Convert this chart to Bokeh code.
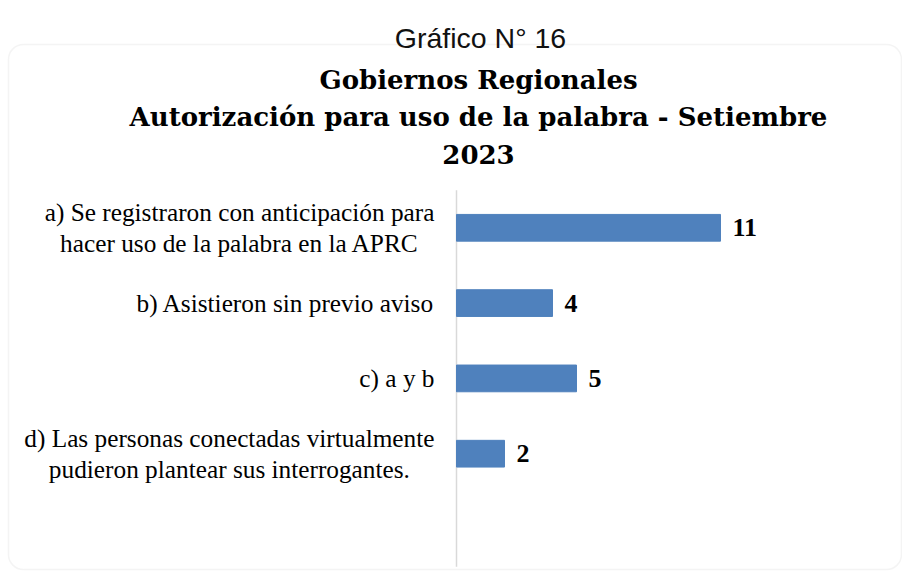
from bokeh.plotting import figure
from bokeh.models import Range1d, Label, BoxAnnotation, ColumnDataSource
from bokeh.core.properties import value
from bokeh.embed import file_html
from bokeh.resources import INLINE

# ---- data ----
super_title = "Gráfico N° 16"
title_lines = [
    "Gobiernos Regionales",
    "Autorización para uso de la palabra - Setiembre",
    "2023",
]
categories = [
    "a) Se registraron con anticipación para\nhacer uso de la palabra en la APRC",
    "b) Asistieron sin previo aviso",
    "c) a y b",
    "d) Las personas conectadas virtualmente\npudieron plantear sus interrogantes.",
]
counts = [11, 4, 5, 2]

# ---- layout (canvas pixels) ----
W, H = 902, 571
X0 = 456          # canvas x of value 0
PX_PER_UNIT = 24  # pixels per count
Y0 = 227.3        # canvas y of first category centre
BAND = 75.3       # pixels per category band

p = figure(
    width=W, height=H, output_backend="svg", toolbar_location=None,
    x_range=Range1d(-X0 / PX_PER_UNIT, (W - X0) / PX_PER_UNIT),
    y_range=Range1d((H - Y0) / BAND, -Y0 / BAND),
    x_axis_location=None, y_axis_location=None,
    min_border=0, min_border_left=0, min_border_right=0,
    min_border_top=0, min_border_bottom=0,
)
p.grid.visible = False
p.outline_line_color = None
p.background_fill_color = "white"
p.border_fill_color = "white"

idx = list(range(len(categories)))
src = ColumnDataSource(dict(
    y=idx, count=counts, label=[str(c) for c in counts], cat=categories,
))

# rounded chart border
p.add_layout(BoxAnnotation(
    left=8, right=W - 1, top=H - 44, bottom=2,
    left_units="screen", right_units="screen",
    top_units="screen", bottom_units="screen",
    fill_color=None, line_color="#d9d9d9", line_width=1.5,
    border_radius=15, level="underlay",
))

# category axis line
p.segment(x0=0, y0=-0.5, x1=0, y1=len(categories) + 0.5,
          line_color="#d9d9d9", line_width=1.5)

# bars
p.hbar(y="y", left=0, right="count", height=0.355, color="#4f81bd", source=src)

# category labels (block right-aligned, lines centred)
p.text(x=0, y="y", text="cat", source=src, x_offset=-22,
       anchor=value("center_right"),
       text_align="center", text_baseline="middle",
       text_font=value("Liberation Serif"), text_font_size="25.3px",
       text_line_height=1.1, text_color="black")

# value labels
p.text(x="count", y="y", text="label", source=src, x_offset=12,
       text_align="left", text_baseline="middle",
       text_font=value("Liberation Serif"), text_font_style="bold",
       text_font_size="26px", text_color="black")

# titles
p.add_layout(Label(
    x=480, y=H - 37, x_units="screen", y_units="screen", text=super_title,
    text_align="center", text_baseline="alphabetic",
    text_font="Liberation Sans", text_font_size="28.5px", text_color="#111111",
))
for i, line in enumerate(title_lines):
    p.add_layout(Label(
        x=478, y=H - 79.3 - 37.4 * i, x_units="screen", y_units="screen",
        text=line, text_align="center", text_baseline="alphabetic",
        text_font="DejaVu Serif", text_font_style="bold",
        text_font_size="26px", text_color="black",
    ))

open("out.html", "w").write(file_html(p, INLINE))
